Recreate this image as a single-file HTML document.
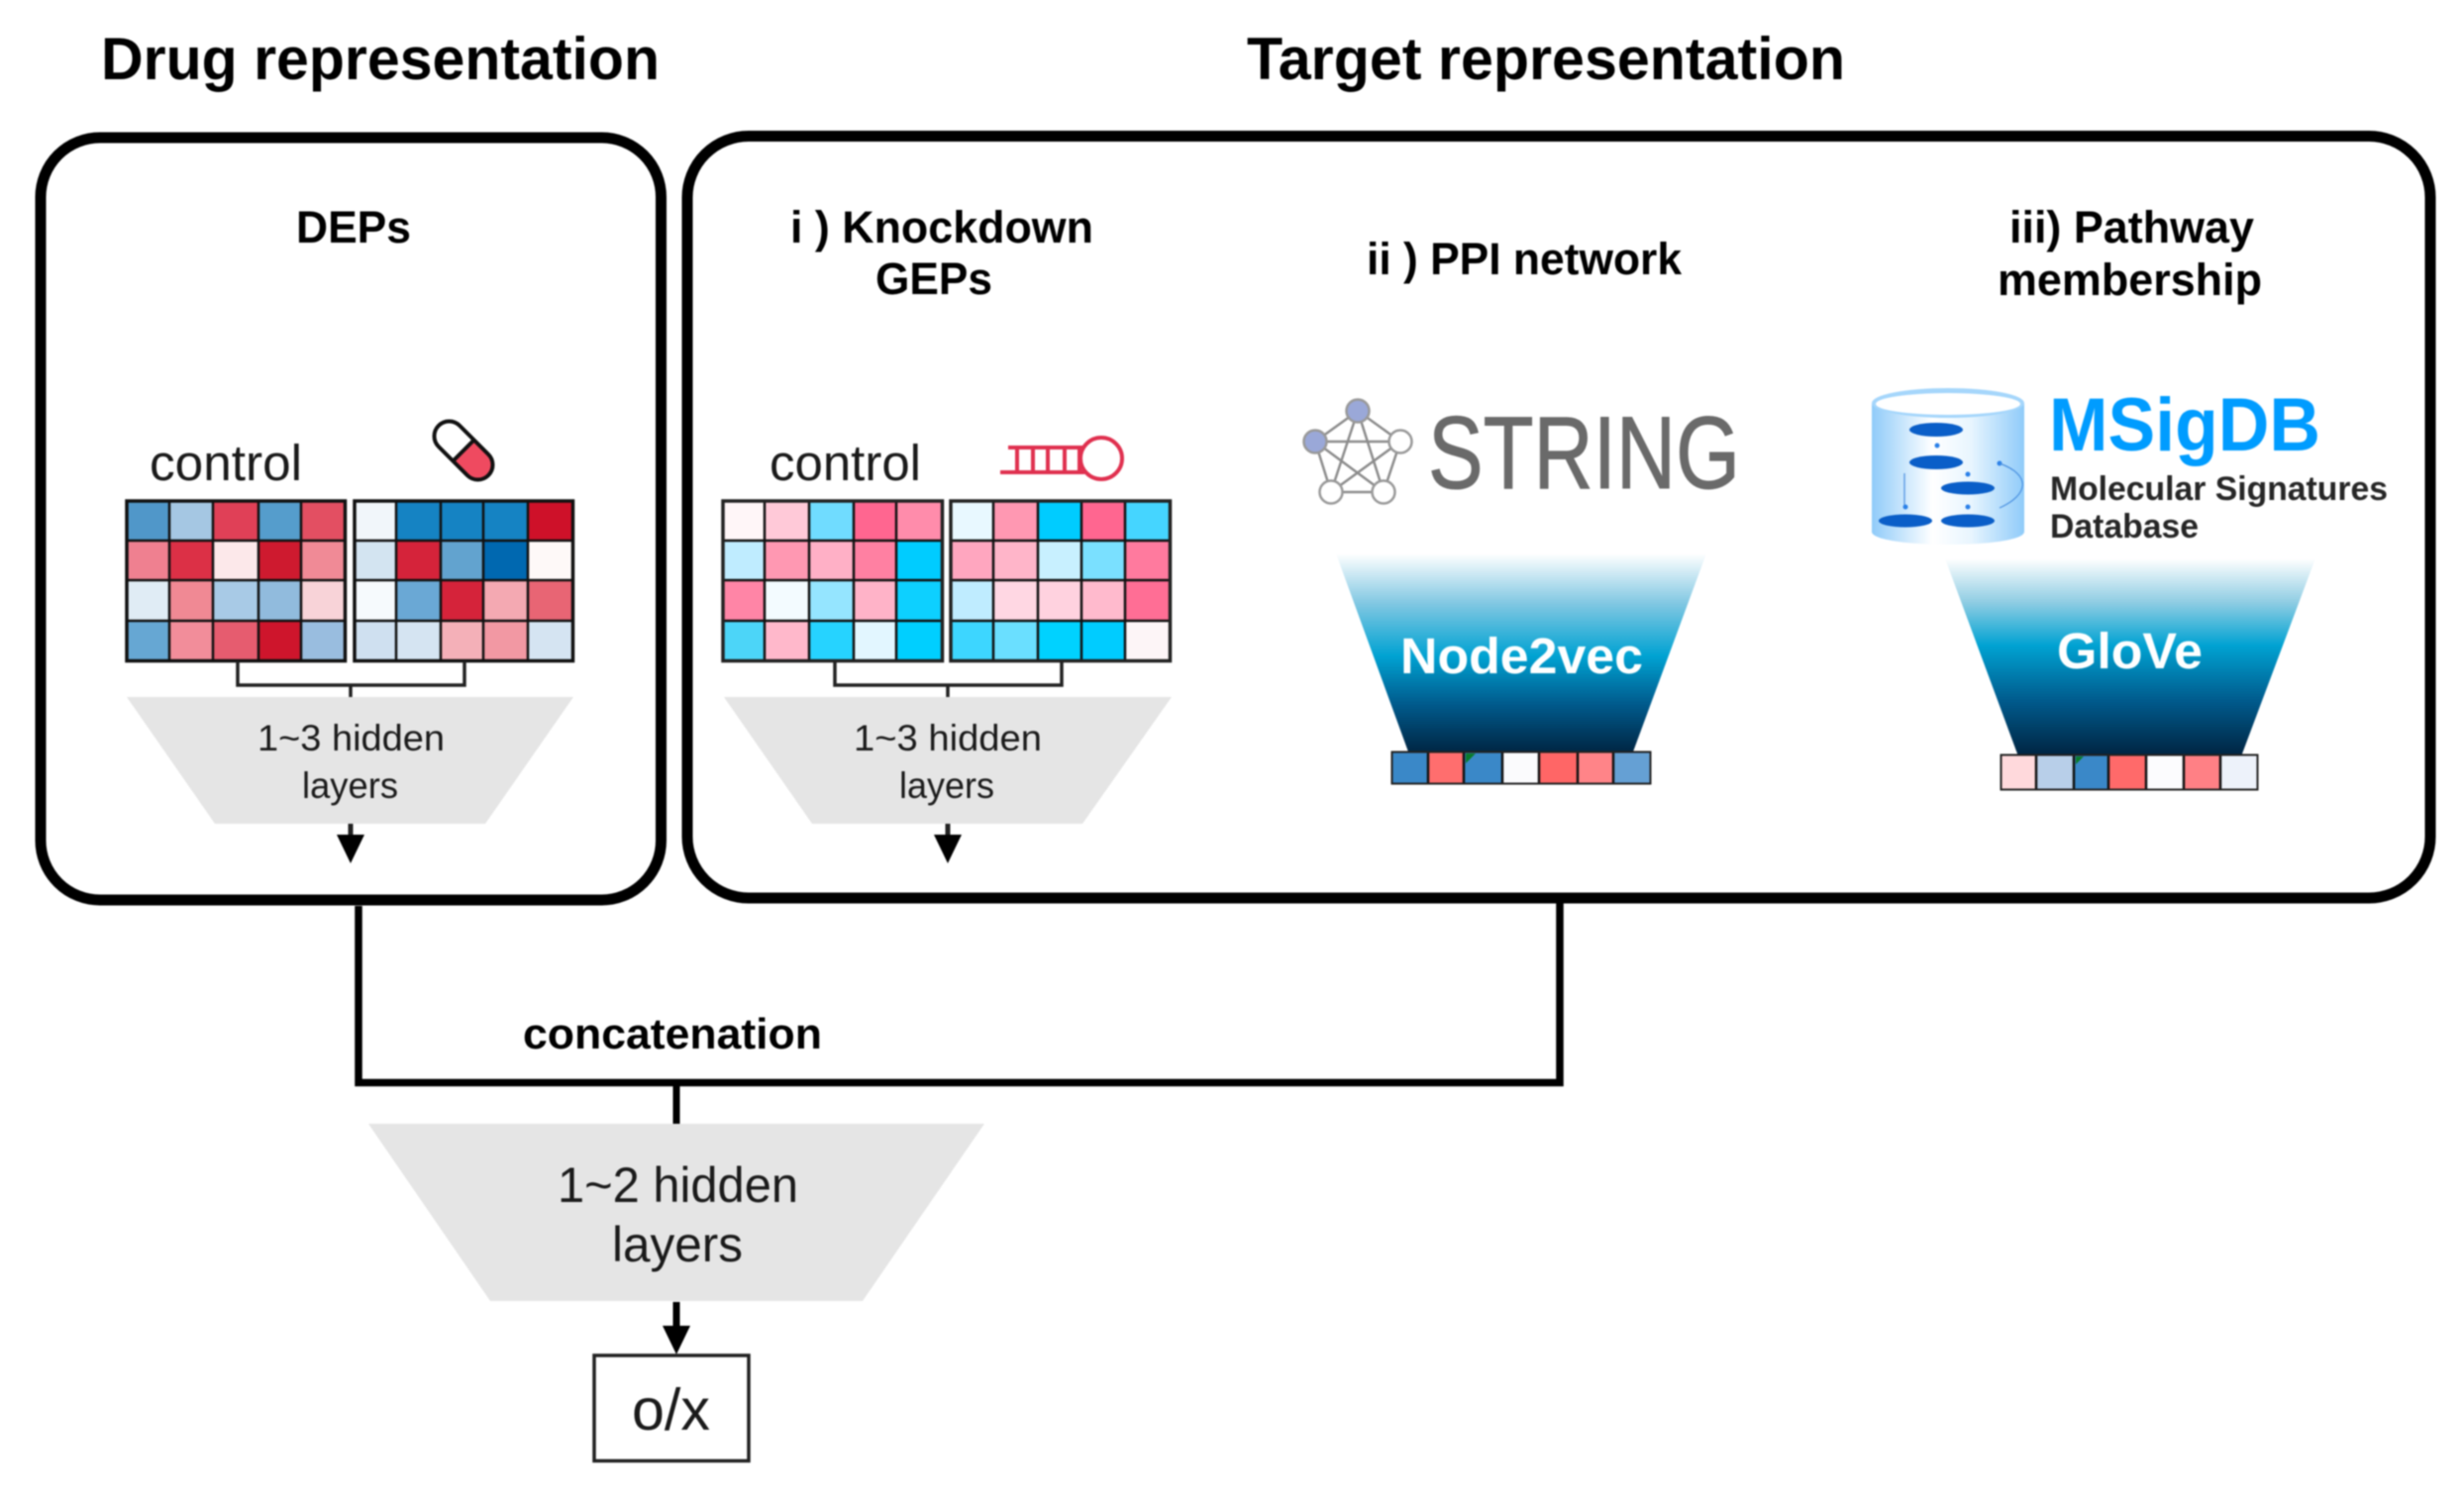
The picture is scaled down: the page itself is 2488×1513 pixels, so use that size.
<!DOCTYPE html>
<html><head><meta charset="utf-8">
<style>
html,body{margin:0;padding:0;background:#fff}
svg{display:block;filter:blur(0.7px)}
text{font-family:"Liberation Sans",Arial,sans-serif}
.b{font-weight:bold;fill:#000}
.r{fill:#1a1a1a}
</style></head><body>
<svg xmlns="http://www.w3.org/2000/svg" width="2488" height="1513" viewBox="0 0 2488 1513">
<defs>
<linearGradient id="g1" x1="0" y1="0" x2="0" y2="1"><stop offset="0" stop-color="#fff"/><stop offset=".25" stop-color="#80c7e2"/><stop offset=".51" stop-color="#00a2d2"/><stop offset=".75" stop-color="#005a8c"/><stop offset="1" stop-color="#002340"/></linearGradient>
<linearGradient id="g2" x1="0" y1="0" x2="0" y2="1"><stop offset="0" stop-color="#fff"/><stop offset=".22" stop-color="#90cde3"/><stop offset=".44" stop-color="#00a2d2"/><stop offset=".72" stop-color="#005a8c"/><stop offset="1" stop-color="#002340"/></linearGradient>
<linearGradient id="cy" x1="0" y1="0" x2="1" y2="0"><stop offset="0" stop-color="#8fcbf9"/><stop offset=".4" stop-color="#ffffff"/><stop offset=".65" stop-color="#e8f5fe"/><stop offset="1" stop-color="#8fcbf9"/></linearGradient>
</defs>
<rect width="2488" height="1513" fill="#fff"/>

<!-- titles -->
<text class="b" x="102" y="80" font-size="60" textLength="564" lengthAdjust="spacingAndGlyphs">Drug representation</text>
<text class="b" x="1259" y="80" font-size="60" textLength="604" lengthAdjust="spacingAndGlyphs">Target representation</text>

<!-- outer boxes -->
<rect x="41" y="139" width="626.5" height="770" rx="60" fill="none" stroke="#000" stroke-width="11"/>
<rect x="694" y="137.5" width="1760" height="769.5" rx="62" fill="none" stroke="#000" stroke-width="11"/>

<!-- subtitles -->
<text class="b" x="299" y="245" font-size="45" textLength="116" lengthAdjust="spacingAndGlyphs">DEPs</text>
<text class="b" x="798" y="245" font-size="45" textLength="306" lengthAdjust="spacingAndGlyphs">i ) Knockdown</text>
<text class="b" x="884" y="297" font-size="45" textLength="118" lengthAdjust="spacingAndGlyphs">GEPs</text>
<text class="b" x="1380" y="277" font-size="45" textLength="318" lengthAdjust="spacingAndGlyphs">ii ) PPI network</text>
<text class="b" x="2029" y="245" font-size="45" textLength="247" lengthAdjust="spacingAndGlyphs">iii) Pathway</text>
<text class="b" x="2017" y="298" font-size="45" textLength="267" lengthAdjust="spacingAndGlyphs">membership</text>

<!-- control labels -->
<text class="r" x="151" y="485" font-size="51" textLength="154" lengthAdjust="spacingAndGlyphs">control</text>
<text class="r" x="777" y="485" font-size="51" textLength="153" lengthAdjust="spacingAndGlyphs">control</text>

<!-- pill -->
<g transform="translate(468,455) rotate(45)">
<path d="M0,-15H20.500A15,15 0 0 1 20.500,15H0Z" fill="#ef4a60"/>
<rect x="-35.500" y="-15" width="71" height="30" rx="15" fill="none" stroke="#111" stroke-width="4"/>
<path d="M0,-15V15" stroke="#111" stroke-width="4"/>
</g>

<!-- heatmap 1 left -->
<g>
<rect x="127" y="505" width="44" height="41" fill="#5097c9"/><rect x="171" y="505" width="44" height="41" fill="#a5c7e3"/><rect x="215" y="505" width="46" height="41" fill="#e04057"/><rect x="261" y="505" width="43" height="41" fill="#559dcc"/><rect x="304" y="505" width="45" height="41" fill="#e34f62"/>
<rect x="127" y="546" width="44" height="40" fill="#ef8090"/><rect x="171" y="546" width="44" height="40" fill="#dc3046"/><rect x="215" y="546" width="46" height="40" fill="#fce8ea"/><rect x="261" y="546" width="43" height="40" fill="#ce1a2f"/><rect x="304" y="546" width="45" height="40" fill="#f08a96"/>
<rect x="127" y="586" width="44" height="41" fill="#e0ecf5"/><rect x="171" y="586" width="44" height="41" fill="#f08994"/><rect x="215" y="586" width="46" height="41" fill="#a8cae6"/><rect x="261" y="586" width="43" height="41" fill="#91bbdd"/><rect x="304" y="586" width="45" height="41" fill="#f8d3d8"/>
<rect x="127" y="627" width="44" height="41" fill="#66a7d3"/><rect x="171" y="627" width="44" height="41" fill="#f28d9a"/><rect x="215" y="627" width="46" height="41" fill="#e65c6f"/><rect x="261" y="627" width="43" height="41" fill="#ce152c"/><rect x="304" y="627" width="45" height="41" fill="#99bddf"/>
<path d="M171,505V668M215,505V668M261,505V668M304,505V668M127,546H349M127,586H349M127,627H349" stroke="#111" stroke-width="2.500" fill="none"/>
<rect x="128" y="506" width="220.500" height="161.500" fill="none" stroke="#111" stroke-width="3.500"/>
</g>
<!-- heatmap 1 right -->
<g>
<rect x="357" y="505" width="43" height="41" fill="#f1f6fa"/><rect x="400" y="505" width="45" height="41" fill="#1583c3"/><rect x="445" y="505" width="43" height="41" fill="#1583c3"/><rect x="488" y="505" width="45" height="41" fill="#1583c3"/><rect x="533" y="505" width="46" height="41" fill="#ce1129"/>
<rect x="357" y="546" width="43" height="40" fill="#d3e4f1"/><rect x="400" y="546" width="45" height="40" fill="#d5233a"/><rect x="445" y="546" width="43" height="40" fill="#62a3cf"/><rect x="488" y="546" width="45" height="40" fill="#0068b0"/><rect x="533" y="546" width="46" height="40" fill="#fef9f8"/>
<rect x="357" y="586" width="43" height="41" fill="#f6fafd"/><rect x="400" y="586" width="45" height="41" fill="#6aa8d5"/><rect x="445" y="586" width="43" height="41" fill="#d5233a"/><rect x="488" y="586" width="45" height="41" fill="#f4a9b2"/><rect x="533" y="586" width="46" height="41" fill="#e86574"/>
<rect x="357" y="627" width="43" height="41" fill="#cfe0f0"/><rect x="400" y="627" width="45" height="41" fill="#d5e4f2"/><rect x="445" y="627" width="43" height="41" fill="#f4b0b8"/><rect x="488" y="627" width="45" height="41" fill="#f298a3"/><rect x="533" y="627" width="46" height="41" fill="#d5e4f2"/>
<path d="M400,505V668M445,505V668M488,505V668M533,505V668M357,546H579M357,586H579M357,627H579" stroke="#111" stroke-width="2.500" fill="none"/>
<rect x="358" y="506" width="220.500" height="161.500" fill="none" stroke="#111" stroke-width="3.500"/>
</g>
<!-- bracket + trapezoid 1 -->
<path d="M240,668V692H469V668M354,692V704" fill="none" stroke="#222" stroke-width="3.500"/>
<polygon points="128,704 579,704 490,832 217,832" fill="#e5e5e5"/>
<text class="r" x="260" y="758" font-size="37" textLength="189" lengthAdjust="spacingAndGlyphs">1~3 hidden</text>
<text class="r" x="305" y="806" font-size="37" textLength="97" lengthAdjust="spacingAndGlyphs">layers</text>
<path d="M354,832V846" stroke="#222" stroke-width="5"/>
<polygon points="340,843 368,843 354,872" fill="#000"/>

<!-- heatmap 2 left -->
<g>
<rect x="729" y="505" width="43" height="41" fill="#fff6f8"/><rect x="772" y="505" width="45" height="41" fill="#ffc9d8"/><rect x="817" y="505" width="45" height="41" fill="#70dcff"/><rect x="862" y="505" width="43" height="41" fill="#ff6690"/><rect x="905" y="505" width="47" height="41" fill="#ff8cab"/>
<rect x="729" y="546" width="43" height="40" fill="#bfecff"/><rect x="772" y="546" width="45" height="40" fill="#ff98b2"/><rect x="817" y="546" width="45" height="40" fill="#ffb0c6"/><rect x="862" y="546" width="43" height="40" fill="#ff80a2"/><rect x="905" y="546" width="47" height="40" fill="#00ccff"/>
<rect x="729" y="586" width="43" height="41" fill="#ff85a6"/><rect x="772" y="586" width="45" height="41" fill="#f3fbff"/><rect x="817" y="586" width="45" height="41" fill="#95e5ff"/><rect x="862" y="586" width="43" height="41" fill="#ffb3c8"/><rect x="905" y="586" width="47" height="41" fill="#0dd0ff"/>
<rect x="729" y="627" width="43" height="41" fill="#4cd5f8"/><rect x="772" y="627" width="45" height="41" fill="#ffb8cb"/><rect x="817" y="627" width="45" height="41" fill="#26d3ff"/><rect x="862" y="627" width="43" height="41" fill="#e2f6ff"/><rect x="905" y="627" width="47" height="41" fill="#00cfff"/>
<path d="M772,505V668M817,505V668M862,505V668M905,505V668M729,546H952M729,586H952M729,627H952" stroke="#111" stroke-width="2.500" fill="none"/>
<rect x="730" y="506" width="221.500" height="161.500" fill="none" stroke="#222" stroke-width="3.500"/>
</g>
<!-- heatmap 2 right -->
<g>
<rect x="959" y="505" width="44" height="41" fill="#e8f8ff"/><rect x="1003" y="505" width="45" height="41" fill="#ff98b2"/><rect x="1048" y="505" width="44" height="41" fill="#00ccff"/><rect x="1092" y="505" width="44" height="41" fill="#ff6690"/><rect x="1136" y="505" width="46" height="41" fill="#45d5ff"/>
<rect x="959" y="546" width="44" height="40" fill="#ffa6bf"/><rect x="1003" y="546" width="45" height="40" fill="#ffb5c9"/><rect x="1048" y="546" width="44" height="40" fill="#c8f0ff"/><rect x="1092" y="546" width="44" height="40" fill="#7ae0ff"/><rect x="1136" y="546" width="46" height="40" fill="#ff7a9e"/>
<rect x="959" y="586" width="44" height="41" fill="#bfecff"/><rect x="1003" y="586" width="45" height="41" fill="#ffd7e3"/><rect x="1048" y="586" width="44" height="41" fill="#ffd2df"/><rect x="1092" y="586" width="44" height="41" fill="#ffbacd"/><rect x="1136" y="586" width="46" height="41" fill="#ff6e95"/>
<rect x="959" y="627" width="44" height="41" fill="#3dd6ff"/><rect x="1003" y="627" width="45" height="41" fill="#6adfff"/><rect x="1048" y="627" width="44" height="41" fill="#00d2ff"/><rect x="1092" y="627" width="44" height="41" fill="#00ccff"/><rect x="1136" y="627" width="46" height="41" fill="#fdf5f7"/>
<path d="M1003,505V668M1048,505V668M1092,505V668M1136,505V668M959,546H1182M959,586H1182M959,627H1182" stroke="#111" stroke-width="2.500" fill="none"/>
<rect x="960" y="506" width="221.500" height="161.500" fill="none" stroke="#222" stroke-width="3.500"/>
</g>
<!-- bracket + trapezoid 2 -->
<path d="M843,668V692H1072V668M957,692V704" fill="none" stroke="#222" stroke-width="3.500"/>
<polygon points="731,704 1183,704 1093,832 820,832" fill="#e5e5e5"/>
<text class="r" x="862" y="758" font-size="37" textLength="190" lengthAdjust="spacingAndGlyphs">1~3 hidden</text>
<text class="r" x="908" y="806" font-size="37" textLength="96" lengthAdjust="spacingAndGlyphs">layers</text>
<path d="M957,832V846" stroke="#222" stroke-width="5"/>
<polygon points="943,843 971,843 957,872" fill="#000"/>

<!-- shRNA -->
<g fill="none" stroke="#e0304f" stroke-width="4">
<path d="M1018,452H1095M1010,477H1095M1027,452V477M1043,452V477M1058,452V477M1075,452V477M1090,452V477"/>
<circle cx="1112" cy="463" r="21"/>
</g>

<!-- STRING logo -->
<g stroke="#8c8c8c" stroke-width="2.500" fill="none">
<path d="M1371,415L1328,446M1371,415L1414,446M1371,415L1344,497M1371,415L1397,497M1328,446H1414M1328,446L1344,497M1328,446L1397,497M1414,446L1344,497M1414,446L1397,497M1344,497H1397"/>
</g>
<g stroke="#999" stroke-width="2.500">
<circle cx="1371" cy="415" r="11.500" fill="#9aa8d8"/>
<circle cx="1328" cy="446" r="11.500" fill="#9aa8d8"/>
<circle cx="1414" cy="446" r="11.500" fill="#fff"/>
<circle cx="1344" cy="497" r="11.500" fill="#fff"/>
<circle cx="1397" cy="497" r="11.500" fill="#fff"/>
</g>
<text x="1442" y="493" font-size="104" fill="#6a6a6a" stroke="#6a6a6a" stroke-width="1" textLength="315" lengthAdjust="spacingAndGlyphs">STRING</text>

<!-- Node2vec -->
<polygon points="1349,559 1723,559 1648,762 1423,762" fill="url(#g1)"/>
<text x="1414" y="680" font-size="51" font-weight="bold" fill="#fff" textLength="245" lengthAdjust="spacingAndGlyphs">Node2vec</text>
<rect x="1405" y="759" width="37" height="33" fill="#3a88c8"/><rect x="1442" y="759" width="36" height="33" fill="#ff6e6e"/><rect x="1478" y="759" width="39" height="33" fill="#3a88c8"/><rect x="1517" y="759" width="37" height="33" fill="#fbfbfd"/><rect x="1554" y="759" width="39" height="33" fill="#ff6666"/><rect x="1593" y="759" width="36" height="33" fill="#ff8488"/><rect x="1629" y="759" width="38" height="33" fill="#65a0d4"/>
<polygon points="1480,761 1490,761 1480,771" fill="#0a7a2a"/>
<path d="M1442,759V792M1478,759V792M1517,759V792M1554,759V792M1593,759V792M1629,759V792" stroke="#111" stroke-width="2.500"/>
<rect x="1405.500" y="759.500" width="261" height="32" fill="none" stroke="#222" stroke-width="2"/>

<!-- MSigDB logo -->
<path d="M1890,407V537C1890,545 1925,550 1967,550C2009,550 2044,545 2044,537V407Z" fill="url(#cy)"/>
<ellipse cx="1967" cy="407" rx="77" ry="15" fill="#a5d6fb"/>
<ellipse cx="1967" cy="408" rx="73" ry="11" fill="#fff"/>
<g fill="#0a5ec8">
<ellipse cx="1955" cy="434" rx="27" ry="7"/><ellipse cx="1955" cy="467" rx="27" ry="7"/><ellipse cx="1987" cy="493" rx="27" ry="6.500"/><ellipse cx="1924" cy="526" rx="27" ry="6.500"/><ellipse cx="1987" cy="526" rx="27" ry="6.500"/>
</g>
<g fill="#2a80e8">
<circle cx="1956" cy="450" r="2.500"/><circle cx="1987" cy="479" r="2.500"/><circle cx="1987" cy="512" r="2.500"/><circle cx="1924" cy="512" r="2.500"/><circle cx="2019" cy="468" r="2.500"/>
</g>
<path d="M1923,478V510M2019,468C2052,480 2048,500 2019,513" fill="none" stroke="#4a90e0" stroke-width="1.200"/>
<text x="2069" y="455" font-size="76" font-weight="bold" fill="#009cff" textLength="274" lengthAdjust="spacingAndGlyphs">MSigDB</text>
<text x="2070" y="505" font-size="34" font-weight="bold" fill="#262626" textLength="341" lengthAdjust="spacingAndGlyphs">Molecular Signatures</text>
<text x="2070" y="543" font-size="34" font-weight="bold" fill="#262626" textLength="150" lengthAdjust="spacingAndGlyphs">Database</text>

<!-- GloVe -->
<polygon points="1964,564 2338,564 2263,764 2038,764" fill="url(#g2)"/>
<text x="2077" y="675" font-size="51" font-weight="bold" fill="#fff" textLength="147" lengthAdjust="spacingAndGlyphs">GloVe</text>
<rect x="2020" y="762" width="36" height="36" fill="#ffd9dc"/><rect x="2056" y="762" width="38" height="36" fill="#b8cfe9"/><rect x="2094" y="762" width="35" height="36" fill="#3a88c8"/><rect x="2129" y="762" width="38" height="36" fill="#ff6a6a"/><rect x="2167" y="762" width="38" height="36" fill="#fcfcfe"/><rect x="2205" y="762" width="37" height="36" fill="#ff8085"/><rect x="2242" y="762" width="38" height="36" fill="#edf2fa"/>
<polygon points="2096,764 2104,764 2096,772" fill="#0a7a2a"/>
<path d="M2056,762V798M2094,762V798M2129,762V798M2167,762V798M2205,762V798M2242,762V798" stroke="#111" stroke-width="2.500"/>
<rect x="2020.500" y="762.500" width="259" height="35" fill="none" stroke="#222" stroke-width="2"/>

<!-- concatenation connectors -->
<path d="M362,915V1093.500H1575V912" fill="none" stroke="#000" stroke-width="7.500"/>
<path d="M683,1094V1136" stroke="#000" stroke-width="7"/>
<text class="b" x="528" y="1059" font-size="44" textLength="302" lengthAdjust="spacingAndGlyphs">concatenation</text>

<!-- bottom trapezoid -->
<polygon points="372,1135 994,1135 871,1314 495,1314" fill="#e5e5e5"/>
<text class="r" x="563" y="1214" font-size="50" textLength="243" lengthAdjust="spacingAndGlyphs">1~2 hidden</text>
<text class="r" x="618" y="1274" font-size="50" textLength="132" lengthAdjust="spacingAndGlyphs">layers</text>
<path d="M683,1315V1344" stroke="#000" stroke-width="7"/>
<polygon points="669,1339 697,1339 683,1368" fill="#000"/>

<!-- o/x -->
<rect x="600" y="1369" width="156" height="106.500" fill="#fff" stroke="#222" stroke-width="3.500"/>
<text class="r" x="638" y="1444" font-size="59" textLength="79" lengthAdjust="spacingAndGlyphs">o/x</text>
</svg>
</body></html>
